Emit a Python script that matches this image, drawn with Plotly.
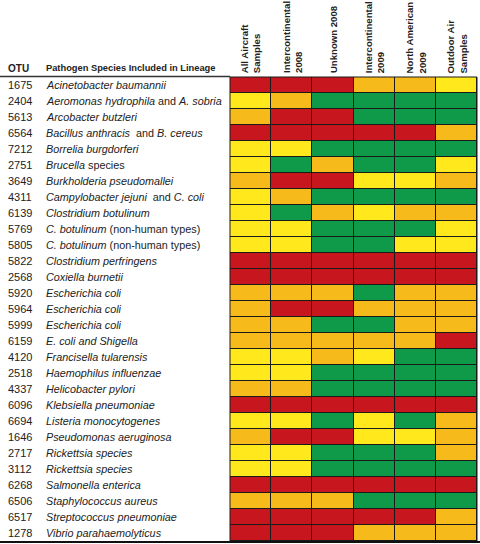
import plotly.graph_objects as go

otus = ["1675","2404","5613","6564","7212","2751","3649","4311","6139","5769","5805",
        "5822","2568","5920","5964","5999","6159","4120","2518","4337","6096","6694",
        "1646","2717","3112","6268","6506","6517","1278"]

species = [
    "<i>Acinetobacter baumannii</i>",
    "<i>Aeromonas hydrophila</i> and <i>A. sobria</i>",
    "<i>Arcobacter butzleri</i>",
    "<i>Bacillus anthracis</i>  and <i>B. cereus</i>",
    "<i>Borrelia burgdorferi</i>",
    "<i>Brucella</i> species",
    "<i>Burkholderia pseudomallei</i>",
    "<i>Campylobacter jejuni</i>  and <i>C. coli</i>",
    "<i>Clostridium botulinum</i>",
    "<i>C. botulinum</i> (non-human types)",
    "<i>C. botulinum</i> (non-human types)",
    "<i>Clostridium perfringens</i>",
    "<i>Coxiella burnetii</i>",
    "<i>Escherichia coli</i>",
    "<i>Escherichia coli</i>",
    "<i>Escherichia coli</i>",
    "<i>E. coli and Shigella</i>",
    "<i>Francisella tularensis</i>",
    "<i>Haemophilus influenzae</i>",
    "<i>Helicobacter pylori</i>",
    "<i>Klebsiella pneumoniae</i>",
    "<i>Listeria monocytogenes</i>",
    "<i>Pseudomonas aeruginosa</i>",
    "<i>Rickettsia species</i>",
    "<i>Rickettsia species</i>",
    "<i>Salmonella enterica</i>",
    "<i>Staphylococcus aureus</i>",
    "<i>Streptococcus pneumoniae</i>",
    "<i>Vibrio parahaemolyticus</i>",
]

columns = ["All Aircraft<br>Samples", "Intercontinental<br>2008", "Unknown 2008",
           "Intercontinental<br>2009", "North American<br>2009", "Outdoor Air<br>Samples"]

# R=red, O=orange, Y=yellow, G=green
levels = [
    "RRROOY", "YOGGGG", "ORRGGG", "RRRRRO", "YYGGGG", "YGOGGY", "ORRYYO",
    "YOGGGG", "YGOYOO", "YYGGGY", "YYGGYY", "RRRRRR", "RRRRRR", "OOOGOO",
    "ORROOO", "OOGGOO", "OOOOOR", "YYOYGG", "YYGGGG", "OOGGGG", "RRRRRR",
    "YYGYGO", "ORRYYO", "YYGGGO", "YYGGGG", "RRRRRR", "OOOGGG", "RRRRRO",
    "RRROOO",
]

code = {"G": 0, "Y": 1, "O": 2, "R": 3}
z = [[code[c] for c in row] for row in levels]

colorscale = [
    [0.0, "#0E9A48"], [0.25, "#0E9A48"],
    [0.25, "#FFE91C"], [0.5, "#FFE91C"],
    [0.5, "#F6BA1A"], [0.75, "#F6BA1A"],
    [0.75, "#C8161E"], [1.0, "#C8161E"],
]

n = len(otus)
rows = list(range(n))
xcols = list(range(len(columns)))

fig = go.Figure(go.Heatmap(
    z=z, x=xcols, y=rows, zmin=-0.5, zmax=3.5,
    colorscale=colorscale, showscale=False, xgap=1, ygap=1,
    hoverinfo="skip",
))

x0, x1 = 230 / 480, 477 / 480
y0, y1 = (544 - 541) / 544, (544 - 77) / 544

fig.update_layout(
    width=480, height=544,
    margin=dict(l=0, r=0, t=0, b=0),
    paper_bgcolor="white",
    plot_bgcolor="#1a1a1a",
    xaxis=dict(domain=[x0, x1], range=[-0.5, 5.5], showticklabels=False,
               showgrid=False, zeroline=False, fixedrange=True),
    yaxis=dict(domain=[y0, y1], range=[n - 0.5, -0.5], showticklabels=False,
               showgrid=False, zeroline=False, fixedrange=True),
    font=dict(family="Liberation Sans", color="#222222"),
    showlegend=False,
)

ann = []
for i, (o, s) in enumerate(zip(otus, species)):
    ann.append(dict(x=6 / 480, y=i, xref="paper", yref="y", text=o, showarrow=False,
                    xanchor="left", yanchor="middle", font=dict(size=11)))
    ann.append(dict(x=44 / 480, y=i, xref="paper", yref="y", text=s, showarrow=False,
                    xanchor="left", yanchor="middle", font=dict(size=10.8)))

for j, c in enumerate(columns):
    ann.append(dict(x=j, y=1.004, xref="x", yref="y domain", text="<b>" + c + "</b>",
                    showarrow=False, textangle=-90, align="left",
                    xanchor="center", yanchor="bottom", font=dict(size=9.6)))

ann.append(dict(x=6 / 480, y=(544 - 68) / 544, xref="paper", yref="paper",
                text="<b>OTU</b>", showarrow=False, xanchor="left", yanchor="middle",
                font=dict(size=10)))
ann.append(dict(x=44 / 480, y=(544 - 68) / 544, xref="paper", yref="paper",
                text="<b>Pathogen Species Included in Lineage</b>", showarrow=False,
                xanchor="left", yanchor="middle", font=dict(size=9.3)))

fig.update_layout(annotations=ann)

shapes = [
    dict(type="rect", xref="x domain", yref="y domain", x0=0, x1=1, y0=0, y1=1,
         line=dict(color="#1a1a1a", width=1)),
    dict(type="line", xref="paper", yref="paper", x0=0, x1=x0,
         y0=(544 - 76.5) / 544, y1=(544 - 76.5) / 544,
         line=dict(color="#333333", width=1.5)),
    dict(type="line", xref="paper", yref="paper", x0=0, x1=1,
         y0=(544 - 542) / 544, y1=(544 - 542) / 544,
         line=dict(color="#111111", width=2)),
]
fig.update_layout(shapes=shapes)

fig.write_html("out.html", config={"displayModeBar": False},
               post_script="document.body.style.margin='0';document.body.style.overflow='hidden';")
